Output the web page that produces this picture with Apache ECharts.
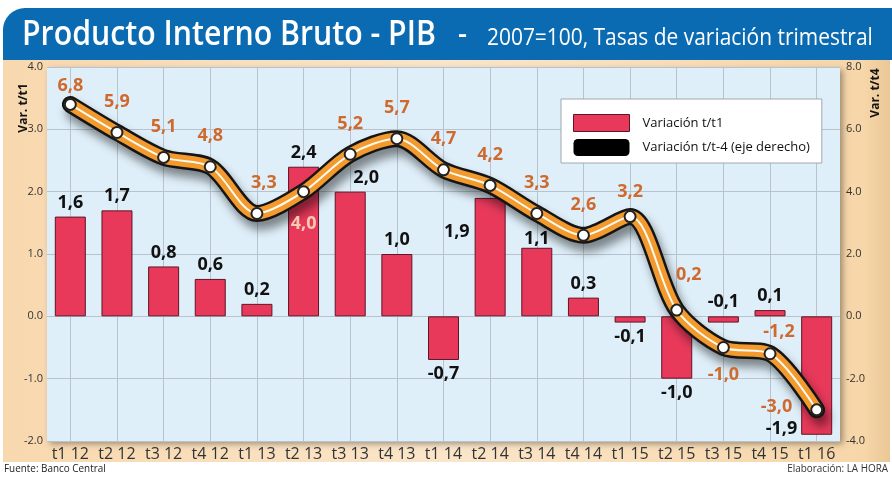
<!DOCTYPE html>
<html><head><meta charset="utf-8">
<script src="https://cdn.jsdelivr.net/npm/echarts@6/dist/echarts.min.js"></script>
<style>html,body{margin:0;padding:0;background:#fff}#c{width:892px;height:482px}</style>
</head><body><div id="c"></div>
<script>
// ---- data ----
const categories = ['t1 12','t2 12','t3 12','t4 12','t1 13','t2 13','t3 13','t4 13','t1 14','t2 14','t3 14','t4 14','t1 15','t2 15','t3 15','t4 15','t1 16'];
const varTT1 = [1.6, 1.7, 0.8, 0.6, 0.2, 2.4, 2.0, 1.0, -0.7, 1.9, 1.1, 0.3, -0.1, -1.0, -0.1, 0.1, -1.9];
const varTT4 = [6.8, 5.9, 5.1, 4.8, 3.3, 4.0, 5.2, 5.7, 4.7, 4.2, 3.3, 2.6, 3.2, 0.2, -1.0, -1.2, -3.0];
const leftTicks = [-2, -1, 0, 1, 2, 3, 4];
const rightTicks = [-4, -2, 0, 2, 4, 6, 8];
const seriesNames = ['Variación t/t1', 'Variación t/t-4 (eje derecho)'];
const titleText = 'Producto Interno Bruto - PIB';
const subtitleText = '2007=100, Tasas de variación trimestral';

// ---- styling ----
const FONT = "'Open Sans', sans-serif";
const fmt = v => v.toFixed(1).replace('.', ',');
const barLabelOverrides = {
  6: {offset: [16, 0]},
  9: {position: 'left', distance: 5, offset: [0, -25]},
  10: {distance: 0},
  14: {position: 'top'},
  16: {position: 'left', distance: 4, offset: [0, 53]}
};
const lineLabelOverrides = {
  0: {distance: 3},
  4: {offset: [7, 0]},
  5: {position: 'bottom', distance: 17, color: '#f7cbb0'},
  12: {distance: 9},
  13: {distance: 20, offset: [12, 0]},
  14: {position: 'bottom', distance: 12},
  15: {distance: 6, offset: [9, 0]},
  16: {position: 'left', distance: 18, offset: [0, -3]}
};
const barData = varTT1.map((v, i) => {
  const o = barLabelOverrides[i];
  const pos = v < 0 ? 'bottom' : 'top';
  return {value: v, label: Object.assign({position: pos}, o || {})};
});
const lineData = varTT4.map((v, i) => {
  const o = lineLabelOverrides[i];
  return o ? {value: v, label: o} : v;
});

const chart = echarts.init(document.getElementById('c'), null, {renderer: 'canvas'});
chart.setOption({
  animation: false,
  backgroundColor: '#ffffff',
  textStyle: {fontFamily: FONT},
  graphic: [
    {type: 'rect', z: -10, shape: {x: 3, y: 58, width: 887, height: 404},
     style: {fill: new echarts.graphic.LinearGradient(0, 0, 1, 0, [
       {offset: 0, color: '#f8d8ae'}, {offset: 0.5, color: '#fbe6ca'}, {offset: 0.97, color: '#f7d6a9'}, {offset: 1, color: '#e9c796'}])}},
    {type: 'rect', z: -9, shape: {x: 3, y: 8, width: 889, height: 52, r: [22, 0, 0, 0]},
     style: {fill: '#0b6bb2'}},
    {type: 'text', z: 100, x: 22, y: 35, scaleX: 0.89,
     style: {text: titleText, fill: '#fff', font: "600 34px 'Open Sans', sans-serif", verticalAlign: 'middle'}},
    {type: 'text', z: 100, x: 458, y: 35,
     style: {text: '-', fill: '#fff', font: "600 28px 'Open Sans', sans-serif", verticalAlign: 'middle'}},
    {type: 'text', z: 100, x: 487, y: 38, scaleX: 0.91,
     style: {text: subtitleText, fill: '#fff', font: "23px 'Open Sans', sans-serif", verticalAlign: 'middle'}},
    {type: 'text', z: 100, x: 24, y: 108, rotation: Math.PI / 2,
     style: {text: 'Var. t/t1', fill: '#111', font: "bold 12px 'Open Sans', sans-serif", align: 'center', verticalAlign: 'middle'}},
    {type: 'text', z: 100, x: 876, y: 93, rotation: Math.PI / 2,
     style: {text: 'Var. t/t4', fill: '#111', font: "bold 12px 'Open Sans', sans-serif", align: 'center', verticalAlign: 'middle'}},
    {type: 'text', z: 100, x: 4, y: 469, scaleX: 0.9,
     style: {text: 'Fuente: Banco Central', fill: '#222', font: "11px 'Open Sans', sans-serif", verticalAlign: 'middle'}},
    {type: 'text', z: 100, x: 888, y: 469, scaleX: 0.9,
     style: {text: 'Elaboración: LA HORA', fill: '#333', font: "11px 'Open Sans', sans-serif", align: 'right', verticalAlign: 'middle'}}
  ],
  legend: {
    left: 561, top: 99, orient: 'vertical',
    backgroundColor: '#ffffff', borderColor: '#a0a8b0', borderWidth: 1,
    padding: [15, 12, 7, 12], itemGap: 7, itemWidth: 56, itemHeight: 17,
    textStyle: {fontFamily: FONT, fontSize: 13, color: '#111', padding: [0, 0, 0, 8]},
    data: [
      {name: seriesNames[0], icon: 'rect', itemStyle: {color: '#e8395b', borderColor: '#5e1626', borderWidth: 1}},
      {name: seriesNames[1], icon: 'roundRect', itemStyle: {color: '#000', borderWidth: 0}}
    ]
  },
  grid: {left: 47, right: 52, top: 67, bottom: 41, show: true, backgroundColor: '#dfeff9', borderWidth: 0,
    shadowColor: 'rgba(0,0,0,0.35)', shadowBlur: 6, shadowOffsetX: 3, shadowOffsetY: 3},
  xAxis: {
    type: 'category', data: categories,
    axisLine: {show: false}, axisTick: {show: false},
    axisLabel: {interval: 0, fontSize: 16, color: '#333', margin: 5, fontFamily: FONT},
    splitLine: {show: false}
  },
  yAxis: [
    {type: 'value', min: leftTicks[0], max: leftTicks[leftTicks.length - 1], interval: leftTicks[1] - leftTicks[0],
     axisLine: {show: false}, axisTick: {show: false},
     splitLine: {show: true, lineStyle: {color: '#b8c3ce', width: 1}},
     axisLabel: {formatter: v => v.toFixed(1), fontSize: 11, color: '#333', margin: 4, fontFamily: FONT}},
    {type: 'value', min: rightTicks[0], max: rightTicks[rightTicks.length - 1], interval: rightTicks[1] - rightTicks[0],
     axisLine: {show: false}, axisTick: {show: false}, splitLine: {show: false},
     axisLabel: {formatter: v => v.toFixed(1), fontSize: 11, color: '#333', margin: 6, fontFamily: FONT}}
  ],
  series: [
    {type: 'bar', name: seriesNames[0], yAxisIndex: 0, data: barData, barWidth: 31, z: 2,
     itemStyle: {color: '#e8395b', borderColor: '#5e1626', borderWidth: 1},
     label: {show: true, distance: 5, fontSize: 18, fontWeight: 'bold', color: '#111', fontFamily: FONT,
       formatter: p => fmt(p.value)},
     markLine: {z: 1, silent: true, symbol: ['none', 'none'], label: {show: false},
       lineStyle: {color: '#b8c3ce', width: 1, type: 'solid'}, emphasis: {disabled: true},
       data: categories.map(c => ({xAxis: c}))}},
    {type: 'line', name: seriesNames[1], yAxisIndex: 1, data: varTT4, smooth: 0.3, symbol: 'none', z: 3,
     itemStyle: {color: '#000'},
     lineStyle: {color: '#151515', width: 17, cap: 'round', join: 'round',
       shadowColor: 'rgba(0,0,0,0.45)', shadowBlur: 10, shadowOffsetX: 4, shadowOffsetY: 8}},
    {type: 'line', name: 'orange', yAxisIndex: 1, data: varTT4, smooth: 0.3, symbol: 'none', z: 4,
     lineStyle: {color: '#f39a2e', width: 12, cap: 'round', join: 'round'}},
    {type: 'line', name: 'center', yAxisIndex: 1, data: lineData, smooth: 0.3, z: 5,
     symbol: 'circle', symbolSize: 11,
     itemStyle: {color: '#ffffff', borderColor: '#222', borderWidth: 2},
     lineStyle: {color: '#fffaf0', width: 2},
     label: {show: true, position: 'top', distance: 15, fontSize: 18, fontWeight: 'bold', color: '#cf6a2f', fontFamily: FONT,
       formatter: p => fmt(p.value)}}
  ]
});
</script></body></html>
